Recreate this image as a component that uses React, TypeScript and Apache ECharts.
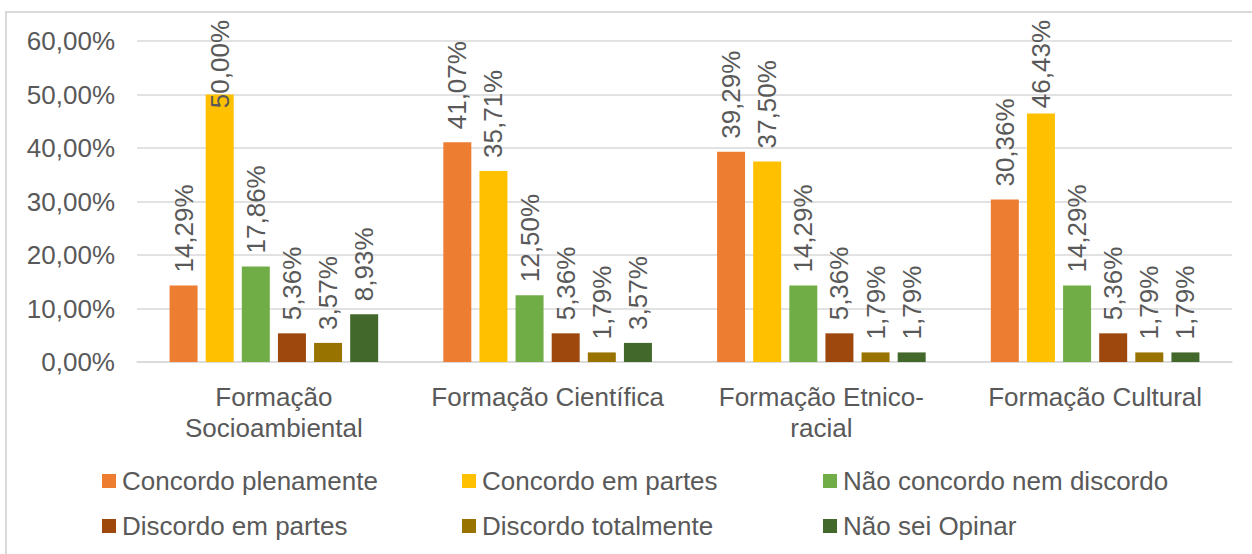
import React, { useEffect, useRef } from "react";
import * as echarts from "echarts";

const categories = [
  "Formação Socioambiental",
  "Formação Científica",
  "Formação Etnico-racial",
  "Formação Cultural",
];
const categoryLabels = [
  "Formação\nSocioambiental",
  "Formação Científica",
  "Formação Etnico-\nracial",
  "Formação Cultural",
];
const seriesNames = [
  "Concordo plenamente",
  "Concordo em partes",
  "Não concordo nem discordo",
  "Discordo em partes",
  "Discordo totalmente",
  "Não sei Opinar",
];
const concordoPlenamente = [14.29, 41.07, 39.29, 30.36];
const concordoEmPartes = [50.0, 35.71, 37.5, 46.43];
const naoConcordoNemDiscordo = [17.86, 12.5, 14.29, 14.29];
const discordoEmPartes = [5.36, 5.36, 5.36, 5.36];
const discordoTotalmente = [3.57, 1.79, 1.79, 1.79];
const naoSeiOpinar = [8.93, 3.57, 1.79, 1.79];
const yTicks = [0, 10, 20, 30, 40, 50, 60];

const seriesValues = [
  concordoPlenamente,
  concordoEmPartes,
  naoConcordoNemDiscordo,
  discordoEmPartes,
  discordoTotalmente,
  naoSeiOpinar,
];
const colors = ["#ED7D31", "#FFC000", "#70AD47", "#9E480E", "#997300", "#43682B"];

const FONT = "'Liberation Sans', Arial, sans-serif";
const FS = 26;
const TEXT = "#595959";
const LABEL_DIST = 13;
const LABEL_TOP_LIMIT = 20;
const fmt = (v: number) => v.toFixed(2).replace(".", ",") + "%";

function textWidth(s: string): number {
  const c = document.createElement("canvas").getContext("2d");
  if (!c) return s.length * FS * 0.55;
  c.font = `${FS}px 'Liberation Sans', Arial, sans-serif`;
  return c.measureText(s).width;
}

export default function App() {
  const ref = useRef<HTMLDivElement>(null);
  useEffect(() => {
    if (!ref.current) return;
    const chart = echarts.init(ref.current, undefined, { renderer: "svg" });
    const legendCols = [
      { left: 102, data: [seriesNames[0], seriesNames[3]] },
      { left: 462, data: [seriesNames[1], seriesNames[4]] },
      { left: 823, data: [seriesNames[2], seriesNames[5]] },
    ];
    const buildSeries = (distances?: number[][]) =>
      seriesNames.map((name, i) => ({
        name,
        type: "bar",
        data: seriesValues[i].map((v, j) =>
          distances ? { value: v, label: { distance: distances[i][j] } } : v
        ),
        barWidth: 28,
        barGap: "29%",
        barCategoryGap: "24%",
        label: {
          show: true,
          position: "top",
          rotate: 90,
          align: "left",
          verticalAlign: "middle",
          distance: LABEL_DIST,
          fontFamily: FONT,
          fontSize: FS,
          color: TEXT,
          formatter: (p: any) => fmt(p.value),
        },
      }));
    chart.setOption({
      animation: false,
      color: colors,
      graphic: [
        {
          type: "rect",
          shape: { x: 6, y: 12, width: 1270, height: 600 },
          style: { fill: "none", stroke: "#d9d9d9", lineWidth: 2 },
          silent: true,
        },
      ],
      grid: { left: 137, right: 20, top: 41, bottom: 192, containLabel: false },
      legend: legendCols.map((c) => ({
        orient: "vertical",
        left: c.left,
        top: 468,
        padding: 0,
        itemGap: 19,
        itemWidth: 14,
        itemHeight: 14,
        icon: "rect",
        data: c.data,
        textStyle: { fontFamily: FONT, fontSize: FS, color: TEXT, padding: [0, 0, 0, 1] },
      })),
      xAxis: {
        type: "category",
        data: categories,
        axisLine: { lineStyle: { color: "#d9d9d9", width: 1.5 } },
        axisTick: { show: false },
        axisLabel: {
          margin: 19,
          fontFamily: FONT,
          fontSize: FS,
          color: TEXT,
          lineHeight: 31,
          interval: 0,
          formatter: (v: string) => categoryLabels[categories.indexOf(v)],
        },
      },
      yAxis: {
        type: "value",
        min: 0,
        max: 60,
        interval: 10,
        axisLine: { show: false },
        axisTick: { show: false },
        splitLine: { lineStyle: { color: "#d9d9d9", width: 1.5 } },
        axisLabel: {
          margin: 22,
          fontFamily: FONT,
          fontSize: FS,
          color: TEXT,
          formatter: (v: number) => (yTicks.includes(v) ? fmt(v) : ""),
        },
      },
      series: buildSeries(),
    });
    // keep labels inside the chart area (like the original's layout)
    const distances = seriesValues.map((vals) =>
      vals.map((v, j) => {
        const top = chart.convertToPixel({ gridIndex: 0 }, [j, v]) as number[];
        const len = textWidth(fmt(v));
        const room = top[1] - LABEL_TOP_LIMIT - len;
        return Math.min(LABEL_DIST, room);
      })
    );
    chart.setOption({ series: buildSeries(distances) });
    return () => chart.dispose();
  }, []);
  return (
    <div
      ref={ref}
      style={{ position: "fixed", left: 0, top: 0, width: 1252, height: 554, background: "#fff" }}
    />
  );
}
